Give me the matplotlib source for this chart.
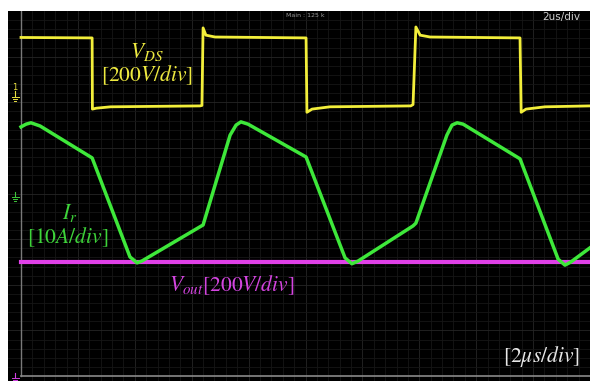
import matplotlib
matplotlib.use("Agg")
import matplotlib.pyplot as plt
import numpy as np

plt.rcParams['mathtext.fontset'] = 'stix'

# ---- data (time in us, amplitude in screen divisions) ----
vds_t = [0.00, 2.50, 2.51, 2.65, 3.15, 6.29, 6.36, 6.40, 6.50, 6.82, 10.02, 10.05, 10.23, 10.86,
         13.70, 13.78, 13.88, 14.03, 14.38, 17.54, 17.58, 17.75, 18.42, 20.00]
vds_v = [7.42, 7.41, 5.85, 5.87, 5.90, 5.92, 5.93, 7.63, 7.47, 7.43, 7.41, 5.78, 5.85, 5.90,
         5.92, 5.95, 7.65, 7.47, 7.43, 7.41, 5.78, 5.85, 5.90, 5.92]

ir_t = [0.00, 0.18, 0.35, 0.67, 2.50, 3.83, 4.08, 4.25, 6.29, 6.40, 7.35, 7.56, 7.73, 7.98,
        10.02, 11.39, 11.63, 11.85, 13.78, 13.88, 14.97, 15.15, 15.33, 15.54, 17.54, 18.88,
        19.12, 19.33, 20.00]
ir_v = [5.46, 5.52, 5.55, 5.48, 4.78, 2.61, 2.48, 2.52, 3.27, 3.31, 5.28, 5.50, 5.57, 5.52,
        4.80, 2.59, 2.46, 2.52, 3.29, 3.35, 5.28, 5.50, 5.55, 5.52, 4.76, 2.56,
        2.43, 2.50, 2.81]

vout_t = [0.00, 20.00]
vout_v = [2.50, 2.50]

# ---- figure ----
W, H = 590, 381
fig = plt.figure(figsize=(W / 100, H / 100), dpi=100, facecolor='white')
ax = fig.add_axes([8 / W, 0, 582 / W, 370 / H])
ax.set_facecolor('black')
px_per_us = 28.45
px_per_div = 45.625
ax.set_xlim(-13 / px_per_us, 20.0)
ax.set_ylim(-5 / px_per_div, 8.0)
for s in ax.spines.values():
    s.set_visible(False)
ax.set_xticks([])
ax.set_yticks([])

# grid
for x in np.arange(0.4, 20.0, 0.4):
    major = abs(x / 2 - round(x / 2)) < 1e-6
    ax.axvline(x, color='#262626' if major else '#161616', lw=0.6, zorder=0)
for y in np.arange(0.2, 8.0, 0.2):
    major = abs(y - round(y)) < 1e-6
    ax.axhline(y, color='#262626' if major else '#161616', lw=0.6, zorder=0)

# frame lines
ax.plot([0, 0], [0, 8.0], color='#7a7a7a', lw=1.0, zorder=1)
ax.plot([0, 20.0], [0, 0], color='#8a8a8a', lw=1.2, zorder=1)

# traces
ax.plot(vout_t, vout_v, color='#e040e8', lw=3.0, zorder=2)
ax.plot(vds_t, vds_v, color='#f2ee3a', lw=2.0, zorder=3)
ax.plot(ir_t, ir_v, color='#3ee83a', lw=2.5, zorder=4)

# ground markers
def gmark(y, c):
    x0 = -6 / px_per_us
    w = 3.5 / px_per_us
    ax.plot([x0, x0], [y + 0.12, y + 0.02], color=c, lw=0.8, zorder=5)
    for i, f in enumerate([1.0, 0.65, 0.3]):
        yy = y - i * 0.045
        ax.plot([x0 - w * f, x0 + w * f], [yy, yy], color=c, lw=0.7, zorder=5)

gmark(6.12, '#e8e040')
gmark(3.92, '#3ec83a')
gmark(-0.05, '#d040e0')
ax.text(-6 / px_per_us, 6.22, '1', color='#e8e040', fontsize=6, ha='center', va='bottom')

# labels
fs = 15.5
ax.text(4.43, 7.10, r'$V_{DS}$', color='#eeea40', fontsize=fs, ha='center', va='center')
ax.text(4.43, 6.60, r'$[200V/div]$', color='#eeea40', fontsize=fs, ha='center', va='center')
ax.text(1.72, 3.57, r'$I_r$', color='#3ed43a', fontsize=fs, ha='center', va='center')
ax.text(1.65, 3.05, r'$[10A/div]$', color='#3ed43a', fontsize=fs, ha='center', va='center')
ax.text(7.42, 1.99, r'$V_{out}[200V/div]$', color='#d445e0', fontsize=fs, ha='center', va='center')
ax.text(18.31, 0.42, r'$[2\mu s/div]$', color='#e8e8e8', fontsize=fs, ha='center', va='center')

ax.text(9.98, (376 - 15) / px_per_div, 'Main : 125 k', color='#9a9a9a', fontsize=4.5,
        ha='center', va='center')
ax.text(19.64, (376 - 17) / px_per_div, '2us/div', color='#d0d0d0', fontsize=7.5,
        ha='right', va='center', family='Liberation Sans Narrow')

fig.savefig('out.png', dpi=100, facecolor='white')
